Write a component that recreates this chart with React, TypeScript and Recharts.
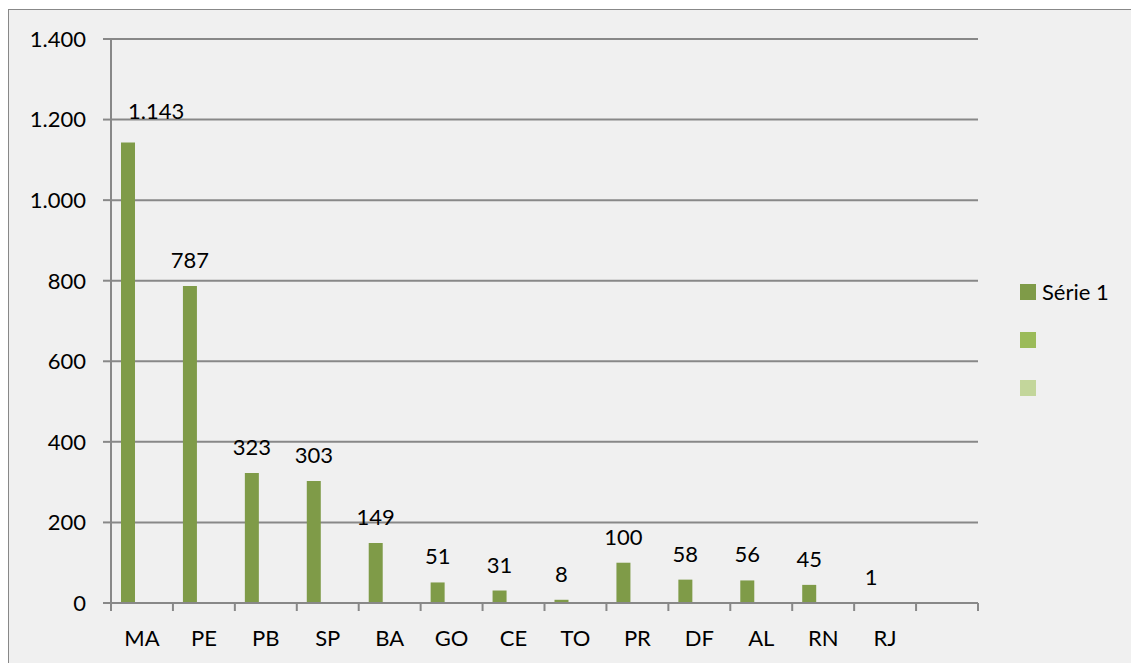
import { BarChart, Bar, XAxis, YAxis, CartesianGrid, Legend, LabelList } from 'recharts';

const UFS = ['MA', 'PE', 'PB', 'SP', 'BA', 'GO', 'CE', 'TO', 'PR', 'DF', 'AL', 'RN', 'RJ', ''];
const SERIE_1 = [1143, 787, 323, 303, 149, 51, 31, 8, 100, 58, 56, 45, 1, null];
const SERIE_2 = [null, null, null, null, null, null, null, null, null, null, null, null, null, null];
const SERIE_3 = [null, null, null, null, null, null, null, null, null, null, null, null, null, null];
const Y_TICKS = [0, 200, 400, 600, 800, 1000, 1200, 1400];
const SERIES_ORDER = ['s1', 's2', 's3'];

const data = UFS.map((uf, i) => ({ uf, s1: SERIE_1[i], s2: SERIE_2[i], s3: SERIE_3[i] }));

const FONT = 'Lato, "Open Sans", sans-serif';
const AXIS = '#888888';
const LINE_W = 2;
const CHART_W = 1122;
const CHART_H = 653;
const Y_AXIS_W = 102;
const LEGEND_W = 140;
const MARGIN = { top: 29, right: 13, bottom: 0, left: 0 };
const PLOT_W = CHART_W - Y_AXIS_W - MARGIN.right - LEGEND_W;
const X_TICK_SIZE = 8;
const X_TICK_MARGIN = 19;

// 1400 -> "1.400"
const fmt = (v: number) => String(v).replace(/\B(?=(\d{3})+(?!\d))/g, '.');

// labels sit at band centres, tick marks at band edges (Excel style)
function UfTick({ x, y, payload, index }: any) {
  const half = payload?.offset || PLOT_W / UFS.length / 2;
  const axisY = y - X_TICK_SIZE - X_TICK_MARGIN;
  return (
    <g>
      <line x1={x - half} x2={x - half} y1={axisY} y2={axisY + X_TICK_SIZE} stroke={AXIS} strokeWidth={LINE_W} />
      {index === UFS.length - 1 && (
        <line x1={x + half} x2={x + half} y1={axisY} y2={axisY + X_TICK_SIZE} stroke={AXIS} strokeWidth={LINE_W} />
      )}
      <text x={x} y={y} dy="0.71em" textAnchor="middle" fill="#000" fontSize={22} fontFamily={FONT}>
        {payload.value}
      </text>
    </g>
  );
}

function ValueLabel({ x, y, width, value }: any) {
  if (value == null) return null;
  const cx = Number(x) + Number(width) / 2;
  const text = fmt(Number(value));
  // push the label right (and a bit up) when it would run into the value axis
  const clash = cx - (text.length * 11) / 2 < Y_AXIS_W;
  return (
    <text
      x={cx}
      y={Number(y) - (clash ? 24 : 18)}
      textAnchor={clash ? 'start' : 'middle'}
      fill="#000"
      fontSize={22}
      fontFamily={FONT}
    >
      {text}
    </text>
  );
}

function SeriesLegend({ payload }: any) {
  const items = [...(payload || [])].sort(
    (a: any, b: any) => SERIES_ORDER.indexOf(a.dataKey) - SERIES_ORDER.indexOf(b.dataKey),
  );
  return (
    <div style={{ width: LEGEND_W, paddingLeft: 42, paddingTop: 6, boxSizing: 'border-box', fontFamily: FONT }}>
      {items.map((p: any) => (
        <div key={p.dataKey} style={{ height: 48, display: 'flex', alignItems: 'center' }}>
          <span style={{ width: 16, height: 16, background: p.color, marginRight: 6, display: 'inline-block' }} />
          <span style={{ fontSize: 22, color: '#000' }}>{p.value}</span>
        </div>
      ))}
    </div>
  );
}

export default function App() {
  return (
    <div
      style={{
        position: 'absolute',
        left: 8,
        top: 9,
        width: 1123,
        height: 654,
        boxSizing: 'border-box',
        borderTop: `1px solid ${AXIS}`,
        borderLeft: `1px solid ${AXIS}`,
        background: '#f0f0f0',
        overflow: 'hidden',
        fontFamily: FONT,
      }}
    >
      <BarChart width={CHART_W} height={CHART_H} data={data} margin={MARGIN} barGap={0}>
        <CartesianGrid vertical={false} stroke={AXIS} strokeWidth={LINE_W} />
        <XAxis
          dataKey="uf"
          interval={0}
          height={60}
          axisLine={{ stroke: AXIS, strokeWidth: LINE_W }}
          tickLine={false}
          tickSize={X_TICK_SIZE}
          tickMargin={X_TICK_MARGIN}
          tick={<UfTick />}
        />
        <YAxis
          width={Y_AXIS_W}
          domain={[0, 1400]}
          ticks={Y_TICKS}
          tickFormatter={fmt}
          axisLine={{ stroke: AXIS, strokeWidth: LINE_W }}
          tickLine={{ stroke: AXIS, strokeWidth: LINE_W }}
          tickSize={8}
          tickMargin={17}
          tick={{ fill: '#000', fontSize: 22, fontFamily: FONT }}
        />
        <Legend
          layout="vertical"
          align="right"
          verticalAlign="middle"
          width={LEGEND_W}
          content={<SeriesLegend />}
        />
        <Bar dataKey="s1" name="Série 1" fill="#7f9b48" barSize={14} isAnimationActive={false}>
          <LabelList dataKey="s1" content={<ValueLabel />} />
        </Bar>
        <Bar dataKey="s2" name="" fill="#9bbb59" barSize={14} isAnimationActive={false} />
        <Bar dataKey="s3" name="" fill="#c3d69b" barSize={14} isAnimationActive={false} />
      </BarChart>
    </div>
  );
}
